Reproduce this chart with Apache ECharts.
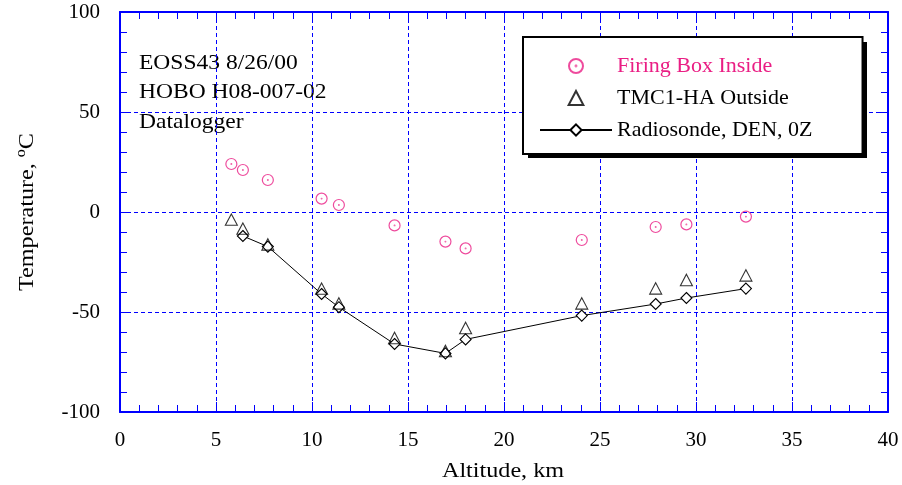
<!DOCTYPE html>
<html>
<head>
<meta charset="utf-8">
<script src="https://cdn.jsdelivr.net/npm/echarts@6/dist/echarts.min.js"></script>
<style>html,body{margin:0;padding:0;background:#fff}#c{width:902px;height:485px}</style>
</head>
<body>
<div id="c"></div>
<script>
// ---- data ----
var firingAlt = [5.8, 6.4, 7.7, 10.5, 11.4, 14.3, 16.95, 18.0, 24.05, 27.9, 29.5, 32.6];
var firingT   = [24, 21, 16, 6.7, 3.5, -6.7, -14.8, -18.2, -14, -7.5, -6.2, -2.3];
var tmcAlt    = [5.8, 6.4, 7.7, 10.5, 11.4, 14.3, 16.95, 18.0, 24.05, 27.9, 29.5, 32.6];
var tmcT      = [-3.8, -8.3, -16.2, -38.3, -45.7, -63, -69.5, -58, -45.7, -38.2, -34, -31.7];
var radAlt    = [6.4, 7.7, 10.5, 11.4, 14.3, 16.95, 18.0, 24.05, 27.9, 29.5, 32.6];
var radT      = [-12, -17.3, -41, -47.6, -66, -70.7, -63.7, -51.8, -46, -43, -38.3];
var seriesNames = ['Firing Box Inside', 'TMC1-HA Outside', 'Radiosonde, DEN, 0Z'];
var noteLines = ['EOSS43 8/26/00', 'HOBO H08-007-02', 'Datalogger'];
var xTitle = 'Altitude, km';
var yTitle = 'Temperature, ';

function pairs(xs, ys) { return xs.map(function (x, i) { return [x, ys[i]]; }); }

var FONT = 'Liberation Serif';
var PINK = '#ea1e84';
var BLUE = '#0000ff';
var ringDot = 'path://M0,-10A10,10 0 1,1 0,10A10,10 0 1,1 0,-10Z M0,-0.6A0.6,0.6 0 1,1 0,0.6A0.6,0.6 0 1,1 0,-0.6Z';
var tri = 'path://M5,0L10,9.5L0,9.5Z';

var chart = echarts.init(document.getElementById('c'), null, {renderer: 'canvas'});

function xAxisCfg(pos, labels) {
  return {
    type: 'value', position: pos, min: 0, max: 40, interval: 5,
    axisLine: {show: true, onZero: false, lineStyle: {color: BLUE, width: 2}},
    axisTick: {show: true, inside: true, length: 10, lineStyle: {color: BLUE, width: 1}},
    minorTick: {show: true, splitNumber: 5, length: 7, lineStyle: {color: BLUE, width: 1}},
    axisLabel: {show: labels, margin: 18, color: '#000', fontFamily: FONT, fontSize: 21},
    splitLine: {show: labels, lineStyle: {color: BLUE, type: [4, 3], width: 1}},
    minorSplitLine: {show: false}
  };
}
function yAxisCfg(pos, labels) {
  return {
    type: 'value', position: pos, min: -100, max: 100, interval: 50,
    axisLine: {show: true, onZero: false, lineStyle: {color: BLUE, width: 2}},
    axisTick: {show: true, inside: true, length: 10, lineStyle: {color: BLUE, width: 1}},
    minorTick: {show: true, splitNumber: 5, length: 7, lineStyle: {color: BLUE, width: 1}},
    axisLabel: {show: labels, margin: 20, color: '#000', fontFamily: FONT, fontSize: 21},
    splitLine: {show: labels, lineStyle: {color: BLUE, type: [4, 3], width: 1}},
    minorSplitLine: {show: false}
  };
}

var graphics = noteLines.map(function (t, i) {
  return {
    type: 'text', x: 139, y: 63 + i * 29.7, scaleX: 1.12,
    style: {text: t, fontFamily: FONT, fontSize: 21, fill: '#000', textAlign: 'left', textVerticalAlign: 'middle'}
  };
});
graphics.push({
  type: 'text', x: 503, y: 471, scaleX: 1.15,
  style: {text: xTitle, fontFamily: FONT, fontSize: 21, fill: '#000', textAlign: 'center', textVerticalAlign: 'middle'}
});
graphics.push({
  type: 'text', x: 26, y: 212, rotation: Math.PI / 2, scaleX: 1.15,
  style: {
    text: '{a|' + yTitle + '}{s|o}{a|C}',
    textAlign: 'center', textVerticalAlign: 'middle',
    rich: {
      a: {fontFamily: FONT, fontSize: 21, fill: '#000', lineHeight: 24, verticalAlign: 'bottom'},
      s: {fontFamily: FONT, fontSize: 14, fill: '#000', lineHeight: 24, verticalAlign: 'top'}
    }
  }
});
// legend drop shadow (plain black box offset behind the legend frame)
graphics.push({
  type: 'rect', z: 3, silent: true,
  shape: {x: 528, y: 42, width: 339, height: 116},
  style: {fill: '#000'}
});

chart.setOption({
  animation: false,
  backgroundColor: '#fff',
  grid: {left: 120, right: 14, top: 12, bottom: 73, containLabel: false},
  xAxis: [xAxisCfg('bottom', true), xAxisCfg('top', false)],
  yAxis: [yAxisCfg('left', true), yAxisCfg('right', false)],
  legend: {
    left: 523, top: 37, orient: 'vertical', selectedMode: false, z: 5,
    itemWidth: 72, itemHeight: 14, itemGap: 10,
    padding: [18, 50, 13, 16],
    backgroundColor: '#fff', borderColor: '#000', borderWidth: 2, borderRadius: 0,
    textStyle: {fontFamily: FONT, fontSize: 22, color: '#000', lineHeight: 22},
    data: [
      {name: seriesNames[0], textStyle: {color: PINK}},
      {name: seriesNames[1]},
      {name: seriesNames[2]}
    ]
  },
  graphic: graphics,
  series: [
    {
      name: seriesNames[0], type: 'scatter', data: pairs(firingAlt, firingT),
      symbol: ringDot, symbolSize: 11, symbolKeepAspect: true,
      itemStyle: {color: 'rgba(0,0,0,0)', borderColor: PINK, borderWidth: 1.2},
      z: 3
    },
    {
      name: seriesNames[1], type: 'scatter', data: pairs(tmcAlt, tmcT),
      symbol: tri, symbolSize: 12, symbolKeepAspect: true,
      itemStyle: {color: 'rgba(0,0,0,0)', borderColor: '#000', borderWidth: 1.1},
      z: 4
    },
    {
      name: seriesNames[2], type: 'line', data: pairs(radAlt, radT),
      symbol: 'diamond', symbolSize: 11, showAllSymbol: true, symbolKeepAspect: true,
      lineStyle: {color: '#000', width: 1},
      itemStyle: {color: '#fff', borderColor: '#000', borderWidth: 1.1},
      z: 2
    }
  ]
});
</script>
</body>
</html>
